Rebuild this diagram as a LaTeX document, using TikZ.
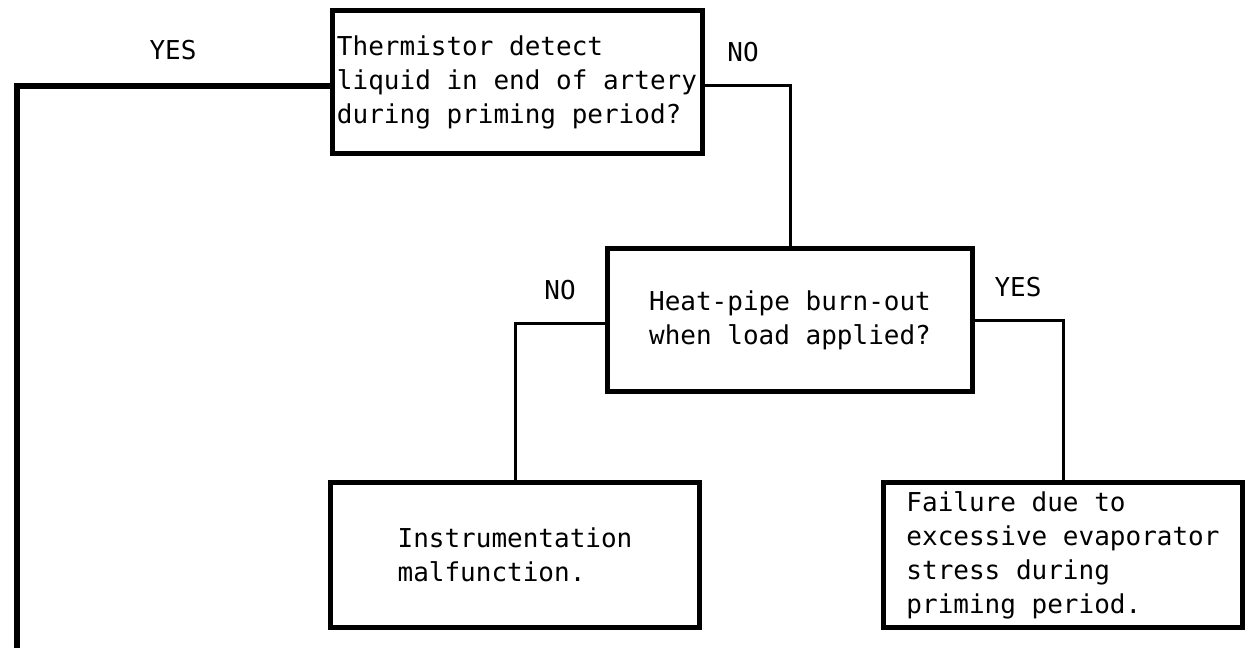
\documentclass[tikz,border=0pt]{standalone}
\usepackage{fontspec}
\setmonofont{DejaVu Sans Mono}
\usetikzlibrary{positioning}
\tikzset{>=latex}
\tikzset{
    qbox/.style={draw, line width=5pt, align=left, inner sep=0pt,
        font=\ttfamily\fontsize{26}{34}\selectfont},
    answer/.style={font=\ttfamily\fontsize{26}{30}\selectfont},
    link/.style={line width=3pt}
}

\begin{document}
\begin{tikzpicture}[x=1pt,y=-1pt]
    \useasboundingbox (0,0) rectangle (1247,648);

    \node[qbox, minimum width=370pt, minimum height=143pt] (thermistor) at (517,82)
        {Thermistor detect\\liquid in end of artery\\during priming period?};
    \node[qbox, minimum width=365pt, minimum height=143pt] (burnout) at (790,320)
        {\fontsize{26}{26}\selectfont Heat-pipe burn-out\\when load applied?};
    \node[qbox, minimum width=369pt, minimum height=145pt] (instrument) at (515,555)
        {\fontsize{26}{37}\selectfont Instrumentation\\malfunction.};
    \node[qbox, minimum width=359pt, minimum height=145pt] (evaporator) at (1063,555)
        {\fontsize{26}{30}\selectfont Failure due to\\excessive evaporator\\stress during\\priming period.};

    \node[answer] (yesA) at (173,50) {YES};
    \node[answer] (noA) at (743,52) {NO};
    \node[answer] (noB) at (560,290) {NO};
    \node[answer] (yesB) at (1018,287) {YES};

    \coordinate (yesend) at (17,648);
    \draw[line width=6pt] ([yshift=-4pt]thermistor.west) -| (yesend);
    \draw[link] ([yshift=-3pt]thermistor.east) -| (burnout.north);
    \draw[link] ([yshift=-3pt]burnout.west) -| (instrument.north);
    \draw[link] (burnout.east) -| (evaporator.north);
\end{tikzpicture}
\end{document}
